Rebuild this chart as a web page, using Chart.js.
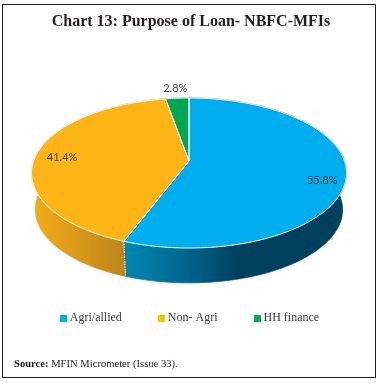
<!DOCTYPE html>
<html><head><meta charset="utf-8">
<script src="https://cdn.jsdelivr.net/npm/chart.js@4"></script>
<style>
html,body{margin:0;padding:0;background:#fff}
#wrap{position:relative;width:380px;height:384px;overflow:hidden}
#frame{position:absolute;left:2px;top:4px;width:372px;height:372px;border:1.5px solid #231f20;pointer-events:none}
#src{position:absolute;left:14px;top:358px;font:10.6px "Liberation Serif",serif;color:#231f20;white-space:nowrap}
canvas{position:absolute;left:0;top:0}
</style></head><body>
<div id="wrap"><canvas id="c" width="380" height="384"></canvas><div id="frame"></div>
<div id="src"><b>Source:</b> MFIN Micrometer (Issue 33).</div></div>
<script>
const titleText = 'Chart 13: Purpose of Loan- NBFC-MFIs';
const categories = ['Agri/allied', 'Non- Agri', 'HH finance'];
const shares = [55.8, 41.4, 2.8];
const sliceColors = ['#00AEEF', '#FDB515', '#00A651'];
const legendColors = ['#00AEEF', '#FFC000', '#00B050'];
const wallStops = [
  [[0.30,'#0088B2'],[0.50,'#00648C'],[0.66,'#003F5E'],[1,'#003F5E']],
  [[0.0,'#F5AE18'],[0.30,'#BC841A']],
  [[0,'#007A3D'],[1,'#007A3D']]
];
const labelRadius = [0.85, 0.83, 1.2];
const labelShiftY = [8, 2, 1];

function swatch(color){
  const s = document.createElement('canvas'); s.width = 7; s.height = 7;
  const g = s.getContext('2d'); g.fillStyle = color; g.fillRect(0,0,7,7);
  return s;
}
const view = {cx:189, cy:161, a:155.5, b:73.1, k:-0.16, depthCy:198, depthScale:0.975};
function project(ux, uy, base){
  const d = 1 + view.k*uy, s = base ? view.depthScale : 1, c = base ? view.depthCy : view.cy;
  return [view.cx + s*view.a*ux/d, c + s*view.b*uy/d];
}
function rim(a0, a1, base){
  const n = Math.max(2, Math.ceil((a1-a0)/0.015)), pts = [];
  for(let i=0;i<=n;i++){ const t=a0+(a1-a0)*i/n; pts.push(project(Math.cos(t),Math.sin(t),base)); }
  return pts;
}
function trace(ctx, pts){ pts.forEach((p,i)=> i?ctx.lineTo(p[0],p[1]):ctx.moveTo(p[0],p[1])); }
function trace2(ctx, pts){ pts.forEach(p=>ctx.lineTo(p[0],p[1])); }

const pie3d = {
  id:'pie3d',
  beforeDatasetsDraw(chart){
    const ctx = chart.ctx, arcs = chart.getDatasetMeta(0).data;
    ctx.save();
    // soft fringe around the disc
    const tau = Math.PI*2;
    ctx.beginPath(); trace(ctx, rim(0,tau,false)); ctx.closePath();
    trace(ctx, rim(0,tau,true)); ctx.closePath();
    ctx.strokeStyle='rgba(170,185,205,0.45)'; ctx.lineWidth=1.4; ctx.stroke();
    // walls
    arcs.forEach((el,i)=>{
      const top = rim(el.startAngle, el.endAngle, false), bot = rim(el.startAngle, el.endAngle, true).reverse();
      const g = ctx.createLinearGradient(31,0,346,0);
      wallStops[i].forEach(s=>g.addColorStop(s[0],s[1]));
      ctx.beginPath(); trace(ctx, top.concat(bot)); ctx.closePath();
      ctx.fillStyle=g; ctx.fill();
      ctx.strokeStyle=g; ctx.lineWidth=0.6; ctx.stroke();
    });
    // dotted seams on the wall
    ctx.strokeStyle='#fff'; ctx.lineWidth=1; ctx.setLineDash([1.5,1]);
    arcs.forEach(el=>{
      const u=[Math.cos(el.startAngle),Math.sin(el.startAngle)];
      if(u[1]>0){ const p=project(u[0],u[1],false), q=project(u[0],u[1],true);
        ctx.beginPath(); ctx.moveTo(p[0],p[1]); ctx.lineTo(q[0],q[1]); ctx.stroke(); }
    });
    ctx.setLineDash([]);
    // top faces
    arcs.forEach((el,i)=>{
      ctx.beginPath(); ctx.moveTo(view.cx,view.cy); trace2(ctx, rim(el.startAngle, el.endAngle,false)); ctx.closePath();
      ctx.fillStyle=el.options.backgroundColor; ctx.fill();
    });
    ctx.strokeStyle='#fff'; ctx.lineWidth=1; ctx.lineJoin='round';
    arcs.forEach(el=>{
      ctx.beginPath(); ctx.moveTo(view.cx,view.cy); trace2(ctx, rim(el.startAngle, el.endAngle,false)); ctx.closePath(); ctx.stroke();
    });
    // labels
    ctx.font='11px Lato, "Open Sans", sans-serif'; ctx.fillStyle='#404040';
    ctx.textAlign='center'; ctx.textBaseline='middle';
    arcs.forEach((el,i)=>{
      const m=(el.startAngle+el.endAngle)/2, r=labelRadius[i];
      const p=project(r*Math.cos(m), r*Math.sin(m), false);
      ctx.fillText(shares[i].toFixed(1)+'%', p[0], p[1]+labelShiftY[i]);
    });
    ctx.restore();
    return false;
  }
};

new Chart(document.getElementById('c'), {
  type:'pie',
  data:{labels:categories, datasets:[{data:shares, backgroundColor:sliceColors, borderWidth:0}]},
  plugins:[pie3d],
  options:{
    responsive:false, animation:false,
    layout:{padding:{top:12,bottom:50,left:12,right:10}},
    plugins:{
      tooltip:{enabled:false},
      title:{display:true,text:titleText,color:'#231f20',font:{family:'"Liberation Serif",serif',size:16,weight:'bold'},padding:{top:0,bottom:10}},
      legend:{position:'bottom',
        labels:{boxWidth:1,boxHeight:3.5,usePointStyle:true,padding:39,color:'#3a3a3a',
          font:{family:'"Liberation Serif",serif',size:12},
          generateLabels:()=>categories.map((text,i)=>({text,index:i,hidden:false,fontColor:'#3a3a3a',fillStyle:legendColors[i],strokeStyle:legendColors[i],lineWidth:0,pointStyle:swatch(legendColors[i])}))
        }
      }
    }
  }
});
</script></body></html>
